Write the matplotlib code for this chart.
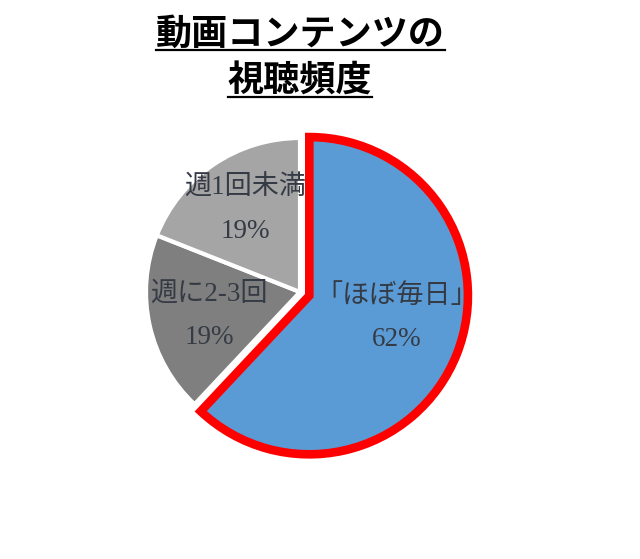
import matplotlib
matplotlib.use('Agg')
import matplotlib.pyplot as plt
from matplotlib.lines import Line2D

# ---- data ----
title_lines = ["動画コンテンツの", "視聴頻度"]
categories = ["「ほぼ毎日」", "週に2-3回", "週1回未満"]
percent_labels = ["62%", "19%", "19%"]
values = [62, 19, 19]
colors = ["#5B9BD5", "#7F7F7F", "#A5A5A5"]

# ---- layout ----
W, H = 640, 559
R = 154
cx, cy = 300, H - 292
label_offsets = [(97, -26), (-91, -24), (-55, 82)]

plt.rcParams['font.family'] = ['Liberation Serif', 'Noto Sans CJK JP', 'DejaVu Sans']

fig = plt.figure(figsize=(W / 100, H / 100), dpi=100)
ax = fig.add_axes([0, 0, 1, 1])

wedges, _ = ax.pie(values, colors=colors, startangle=90, counterclock=False,
                   center=(cx, cy), radius=R, explode=[0.065 * R, 0, 0],
                   wedgeprops=dict(edgecolor='white', linewidth=3))
wedges[0].set_edgecolor('#FF0000')
wedges[0].set_linewidth(6.2)
wedges[0].set_joinstyle('miter')
wedges[0].set_radius(R * 1.03)
wedges[0].set_zorder(3)

ax.set_xlim(0, W)
ax.set_ylim(0, H)
ax.set_aspect('equal')
ax.axis('off')

for cat, pct, (dx, dy) in zip(categories, percent_labels, label_offsets):
    ax.text(cx + dx, cy + dy, f"{cat}\n{pct}", ha='center', va='center',
            fontsize=19.5, color='#353B45', linespacing=1.95, zorder=5)

# title with underline
title_y = [H - 34, H - 81]
underline_y = [H - 50, H - 97]
fig.canvas.draw()
renderer = fig.canvas.get_renderer()
for line, ty, uy in zip(title_lines, title_y, underline_y):
    t = fig.text(300 / W, ty / H, line, ha='center', va='center', fontsize=26,
                 fontweight='bold', color='black',
                 family=['Noto Sans CJK JP', 'DejaVu Sans'])
    bb = t.get_window_extent(renderer=renderer)
    fig.add_artist(Line2D([bb.x0 / W, bb.x1 / W], [uy / H, uy / H],
                          transform=fig.transFigure, color='black', linewidth=1.6))

fig.savefig('out.png', dpi=100)
